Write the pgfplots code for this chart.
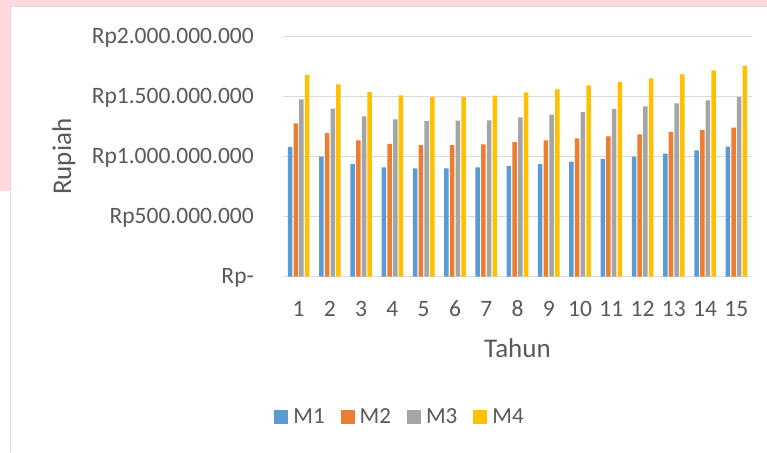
\documentclass[border=0pt]{standalone}
\usepackage{pgfplots}
\pgfplotsset{compat=1.18}
\usepackage{fontspec}
\setmainfont{Carlito}
\definecolor{cM1}{HTML}{5B9BD5}
\definecolor{cM2}{HTML}{ED7D31}
\definecolor{cM3}{HTML}{A5A5A5}
\definecolor{cM4}{HTML}{FFC000}
\definecolor{txt}{HTML}{595959}
\definecolor{gridc}{HTML}{D9D9D9}
\definecolor{pinkbg}{RGB}{255,217,221}
\begin{document}
\begin{tikzpicture}[x=1pt,y=1pt]
\path[use as bounding box] (0,0) rectangle (767,452);
\fill[pinkbg] (0,261) rectangle (767,452);
\fill[white] (10,0) rectangle (767,445.5);
\draw[gridc,line width=1.3pt] (10.5,0) -- (10.5,445.5) -- (767,445.5);
\begin{axis}[
  at={(283pt,175.3pt)}, anchor=south west,
  scale only axis, width=469pt, height=240pt,
  ybar=1.2pt, bar width=4.5pt,
  xmin=0.5, xmax=15.5, ymin=0, ymax=2000000000,
  xtick={1,...,15},
  xticklabels={1,2,3,4,5,6,7,8,9,10,11,12,13,14,15},
  ytick={0,500000000,1000000000,1500000000,2000000000},
  yticklabels={Rp-,Rp500.000.000,Rp1.000.000.000,Rp1.500.000.000,Rp2.000.000.000},
  scaled y ticks=false,
  /pgf/number format/assume math mode=true,
  axis line style={draw=none},
  major tick length=0pt,
  ymajorgrids, grid style={gridc,line width=1.3pt},
  ticklabel style={text=txt,font=\fontsize{23.5}{27}\selectfont},
  xticklabel style={anchor=base,inner sep=0pt,yshift=-40pt},
  yticklabel style={anchor=base east,inner sep=0pt,xshift=-29pt,yshift=-6.5pt},
  xlabel={Tahun}, ylabel={Rupiah},
  label style={text=txt,font=\fontsize{27}{31}\selectfont},
  xlabel style={at={(axis description cs:0.5,-0.296)},anchor=center},
  ylabel style={at={(axis description cs:-0.467,0.5)},anchor=center,rotate=0},
  legend columns=4,
  legend style={at={(axis description cs:0.2495,-0.5846)},anchor=center,draw=none,
    fill=none,font=\fontsize{23}{27}\selectfont,text=txt,
    /tikz/every odd column/.append style={column sep=3pt},
    /tikz/every even column/.append style={column sep=14pt}},
  legend image code/.code={\path[#1] (0pt,-7pt) rectangle (14pt,7pt);},
]
\addplot[fill=cM1,draw=none] coordinates {(1,1081000000) (2,1000000000) (3,939000000) (4,911000000) (5,903000000) (6,903000000) (7,911000000) (8,922000000) (9,939000000) (10,958000000) (11,981000000) (12,1000000000) (13,1025000000) (14,1053000000) (15,1083000000)};
\addplot[fill=cM2,draw=none] coordinates {(1,1278000000) (2,1197000000) (3,1136000000) (4,1106000000) (5,1097000000) (6,1097000000) (7,1103000000) (8,1122000000) (9,1136000000) (10,1153000000) (11,1169000000) (12,1186000000) (13,1206000000) (14,1222000000) (15,1242000000)};
\addplot[fill=cM3,draw=none] coordinates {(1,1478000000) (2,1400000000) (3,1336000000) (4,1311000000) (5,1297000000) (6,1300000000) (7,1303000000) (8,1328000000) (9,1350000000) (10,1372000000) (11,1397000000) (12,1419000000) (13,1444000000) (14,1469000000) (15,1497000000)};
\addplot[fill=cM4,draw=none] coordinates {(1,1681000000) (2,1603000000) (3,1539000000) (4,1511000000) (5,1497000000) (6,1497000000) (7,1508000000) (8,1536000000) (9,1561000000) (10,1594000000) (11,1622000000) (12,1653000000) (13,1686000000) (14,1719000000) (15,1756000000)};
\legend{M1,M2,M3,M4}
\end{axis}
\end{tikzpicture}
\end{document}
